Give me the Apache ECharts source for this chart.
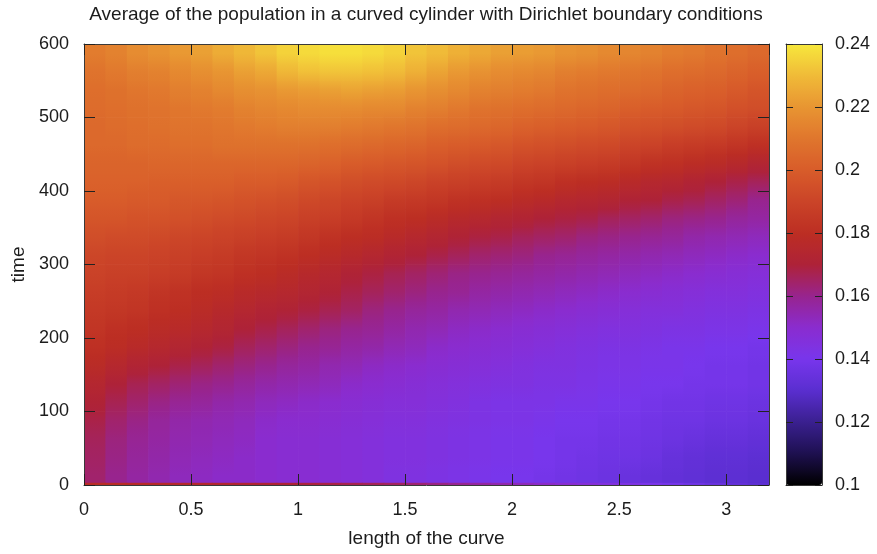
<!DOCTYPE html>
<html>
<head>
<meta charset="utf-8">
<script src="https://cdn.jsdelivr.net/npm/echarts/dist/echarts.min.js"></script>
<style>
html,body{margin:0;padding:0;background:#ffffff;}
#chart{width:877px;height:554px;}
</style>
</head>
<body>
<div id="chart"></div>
<script>
// ---- data ----
const titleText = 'Average of the population in a curved cylinder with Dirichlet boundary conditions';
const xName = 'length of the curve';
const yName = 'time';

// centres of the columns (length of the curve)
const xCenters = [0.05,0.15,0.25,0.35,0.45,0.55,0.65,0.75,0.85,0.95,1.05,1.15,1.25,1.35,1.45,1.55,
                  1.65,1.75,1.85,1.95,2.05,2.15,2.25,2.35,2.45,2.55,2.65,2.75,2.85,2.95,3.05,3.15];
// centres of the rows (time)
const timeCenters = [12.5,37.5,62.5,87.5,112.5,137.5,162.5,187.5,212.5,237.5,262.5,287.5,
                     312.5,337.5,362.5,387.5,412.5,437.5,462.5,487.5,512.5,537.5,562.5,587.5];

// average population, one array per time row (bottom to top)
const row00 = [0.164,0.160,0.157,0.155,0.153,0.152,0.151,0.151,0.150,0.149,0.149,0.148,0.147,0.146,0.144,0.144,0.143,0.142,0.141,0.140,0.140,0.139,0.138,0.137,0.136,0.135,0.134,0.133,0.132,0.131,0.131,0.130];
const row01 = [0.165,0.161,0.158,0.156,0.154,0.153,0.152,0.151,0.150,0.149,0.149,0.148,0.147,0.146,0.145,0.145,0.144,0.143,0.142,0.141,0.141,0.140,0.139,0.138,0.137,0.137,0.136,0.134,0.133,0.132,0.132,0.131];
const row02 = [0.166,0.162,0.159,0.157,0.155,0.154,0.153,0.152,0.150,0.149,0.149,0.148,0.147,0.146,0.145,0.145,0.144,0.143,0.142,0.141,0.141,0.140,0.139,0.139,0.138,0.138,0.137,0.136,0.135,0.134,0.134,0.133];
const row03 = [0.168,0.164,0.161,0.158,0.156,0.155,0.154,0.153,0.151,0.150,0.150,0.149,0.148,0.147,0.146,0.146,0.145,0.144,0.143,0.142,0.142,0.141,0.140,0.140,0.139,0.139,0.138,0.137,0.137,0.136,0.136,0.135];
const row04 = [0.171,0.167,0.164,0.161,0.159,0.158,0.156,0.155,0.153,0.152,0.151,0.150,0.149,0.148,0.147,0.147,0.146,0.145,0.143,0.142,0.142,0.142,0.141,0.141,0.140,0.140,0.139,0.138,0.138,0.137,0.137,0.136];
const row05 = [0.174,0.170,0.167,0.165,0.163,0.161,0.160,0.158,0.156,0.155,0.154,0.153,0.151,0.150,0.149,0.148,0.147,0.146,0.145,0.144,0.144,0.143,0.143,0.142,0.141,0.141,0.140,0.140,0.139,0.139,0.139,0.138];
const row06 = [0.178,0.175,0.172,0.170,0.168,0.166,0.164,0.162,0.160,0.158,0.157,0.155,0.154,0.152,0.151,0.150,0.149,0.148,0.147,0.146,0.145,0.144,0.144,0.143,0.142,0.142,0.141,0.141,0.140,0.139,0.139,0.138];
const row07 = [0.181,0.179,0.177,0.175,0.173,0.171,0.169,0.166,0.164,0.162,0.160,0.159,0.157,0.156,0.154,0.153,0.151,0.150,0.149,0.148,0.147,0.146,0.145,0.144,0.143,0.143,0.142,0.141,0.141,0.140,0.140,0.139];
const row08 = [0.183,0.181,0.180,0.178,0.177,0.175,0.173,0.170,0.168,0.166,0.164,0.162,0.160,0.159,0.157,0.155,0.154,0.152,0.151,0.150,0.149,0.148,0.147,0.146,0.145,0.145,0.144,0.143,0.143,0.142,0.142,0.141];
const row09 = [0.185,0.184,0.183,0.181,0.180,0.178,0.176,0.174,0.172,0.171,0.169,0.167,0.165,0.162,0.160,0.158,0.157,0.155,0.154,0.153,0.152,0.151,0.150,0.149,0.148,0.147,0.146,0.146,0.145,0.144,0.144,0.143];
const row10 = [0.187,0.186,0.185,0.183,0.182,0.180,0.179,0.177,0.176,0.175,0.173,0.171,0.168,0.166,0.164,0.162,0.160,0.159,0.157,0.156,0.155,0.154,0.153,0.152,0.151,0.150,0.149,0.148,0.147,0.146,0.146,0.145];
const row11 = [0.189,0.188,0.188,0.187,0.186,0.184,0.183,0.181,0.180,0.178,0.176,0.174,0.171,0.169,0.167,0.165,0.163,0.161,0.160,0.159,0.158,0.157,0.156,0.155,0.154,0.153,0.152,0.151,0.150,0.149,0.148,0.147];
const row12 = [0.191,0.190,0.190,0.189,0.188,0.187,0.186,0.184,0.183,0.182,0.180,0.178,0.176,0.174,0.172,0.170,0.168,0.166,0.164,0.163,0.162,0.160,0.159,0.158,0.157,0.156,0.155,0.154,0.153,0.152,0.151,0.150];
const row13 = [0.194,0.193,0.193,0.192,0.191,0.190,0.189,0.188,0.187,0.186,0.184,0.182,0.180,0.179,0.177,0.175,0.173,0.171,0.169,0.168,0.166,0.165,0.164,0.162,0.161,0.160,0.159,0.158,0.156,0.155,0.154,0.153];
const row14 = [0.197,0.197,0.196,0.196,0.195,0.194,0.193,0.192,0.191,0.190,0.188,0.187,0.185,0.183,0.181,0.180,0.178,0.176,0.175,0.173,0.172,0.170,0.169,0.168,0.166,0.165,0.164,0.162,0.161,0.160,0.158,0.157];
const row15 = [0.200,0.200,0.199,0.199,0.198,0.198,0.197,0.196,0.195,0.194,0.192,0.191,0.189,0.188,0.186,0.185,0.184,0.182,0.181,0.180,0.178,0.177,0.175,0.174,0.173,0.171,0.170,0.168,0.167,0.165,0.163,0.160];
const row16 = [0.202,0.202,0.202,0.201,0.201,0.201,0.201,0.200,0.200,0.199,0.197,0.196,0.194,0.193,0.192,0.191,0.189,0.188,0.187,0.186,0.184,0.183,0.181,0.180,0.179,0.177,0.175,0.174,0.172,0.170,0.168,0.166];
const row17 = [0.203,0.203,0.203,0.204,0.204,0.204,0.204,0.204,0.204,0.204,0.203,0.202,0.200,0.199,0.198,0.197,0.196,0.194,0.193,0.192,0.190,0.189,0.188,0.187,0.186,0.184,0.182,0.181,0.179,0.178,0.176,0.173];
const row18 = [0.205,0.205,0.206,0.206,0.207,0.207,0.208,0.208,0.208,0.208,0.208,0.207,0.206,0.205,0.204,0.203,0.201,0.200,0.199,0.198,0.196,0.195,0.194,0.193,0.192,0.190,0.189,0.187,0.186,0.185,0.183,0.181];
const row19 = [0.205,0.206,0.207,0.208,0.209,0.209,0.210,0.211,0.212,0.213,0.213,0.213,0.212,0.211,0.210,0.209,0.207,0.206,0.205,0.204,0.202,0.201,0.200,0.199,0.198,0.196,0.195,0.194,0.193,0.192,0.190,0.188];
const row20 = [0.206,0.207,0.208,0.209,0.210,0.211,0.212,0.214,0.215,0.216,0.217,0.217,0.217,0.216,0.216,0.214,0.213,0.211,0.209,0.208,0.207,0.206,0.205,0.204,0.203,0.201,0.200,0.199,0.198,0.197,0.195,0.194];
const row21 = [0.207,0.208,0.210,0.211,0.213,0.214,0.216,0.218,0.219,0.221,0.222,0.223,0.224,0.223,0.222,0.220,0.218,0.216,0.214,0.213,0.212,0.211,0.209,0.208,0.207,0.206,0.205,0.203,0.202,0.201,0.199,0.197];
const row22 = [0.209,0.211,0.213,0.214,0.216,0.218,0.220,0.223,0.225,0.229,0.231,0.232,0.232,0.231,0.230,0.227,0.224,0.221,0.219,0.217,0.216,0.215,0.213,0.212,0.211,0.210,0.209,0.207,0.206,0.205,0.203,0.201];
const row23 = [0.212,0.214,0.217,0.219,0.221,0.223,0.226,0.229,0.232,0.235,0.237,0.238,0.238,0.237,0.235,0.232,0.230,0.227,0.225,0.223,0.222,0.221,0.219,0.218,0.216,0.215,0.214,0.212,0.211,0.209,0.207,0.205];
const rows = [row00,row01,row02,row03,row04,row05,row06,row07,row08,row09,row10,row11,
              row12,row13,row14,row15,row16,row17,row18,row19,row20,row21,row22,row23];

// the thin initial line at time 0
const initialTime = 0;
const initialRow = [0.178,0.178,0.177,0.176,0.175,0.174,0.173,0.172,0.171,0.170,0.169,0.168,0.167,0.166,0.165,0.163,
                    0.161,0.159,0.157,0.155,0.153,0.151,0.149,0.147,0.145,0.143,0.141,0.139,0.137,0.135,0.133,0.131];

// colour-box range and axis ranges
const cbMin = 0.1, cbMax = 0.24, cbStep = 0.02;
const xMin = 0, xMax = 3.2, xStep = 0.5;
const yMin = 0, yMax = 600, yStep = 100;

// ---- build ----
const cellData = [];
rows.forEach((r, i) => r.forEach((v, j) => cellData.push([xCenters[j], timeCenters[i], v, i, j])));
const initData = initialRow.map((v, j) => [xCenters[j], initialTime, v]);
const dx = xCenters[1] - xCenters[0];
const dt = timeCenters[1] - timeCenters[0];

// gnuplot-like palette (black - blue - purple - red - orange - yellow)
const palette = ['#000000','#1e1050','#3a2090','#5a2ed0','#7836ec','#8a2ccf','#98248e','#ae2238',
                 '#bc2e23','#cb4428','#d85c2a','#e0762d','#e89532','#f0bb38','#f7e83c'];
function paletteColor(v) {
  const n = Math.max(0, Math.min(1, (v - cbMin) / (cbMax - cbMin)));
  return echarts.color.lerp(n, palette);
}

const FONT = '"Liberation Sans", Arial, Helvetica, sans-serif';
const TXT = '#1c1c1c';
const LINE = '#3a3a3a';

// each cell keeps its own mapped colour at its centre and is shaded
// vertically towards its neighbours (like gnuplot's smooth image)
function renderCell(params, api) {
  const x = api.value(0), t = api.value(1);
  const i = api.value(3), j = api.value(4);
  const own = api.visual('color');
  const v = rows[i][j];
  const vUp = i + 1 < rows.length ? rows[i + 1][j] : v;
  const vDown = i > 0 ? rows[i - 1][j] : v;
  const cTop = paletteColor((v + vUp) / 2);
  const cBot = paletteColor((v + vDown) / 2);
  const a = api.coord([x - dx / 2, t + dt / 2]);
  const b = api.coord([x + dx / 2, t - dt / 2]);
  return {type: 'rect',
          shape: {x: a[0], y: a[1] - 0.35, width: b[0] - a[0] + 0.7, height: b[1] - a[1] + 0.7},
          style: {fill: {type: 'linear', x: 0, y: 0, x2: 0, y2: 1,
                         colorStops: [{offset: 0, color: cTop}, {offset: 0.5, color: own},
                                      {offset: 1, color: cBot}]}}};
}
function renderInit(params, api) {
  const x = api.value(0), t = api.value(1);
  const a = api.coord([x - dx / 2, t + 3]);
  const b = api.coord([x + dx / 2, t]);
  return {type: 'rect', shape: {x: a[0], y: a[1], width: b[0] - a[0] + 0.7, height: b[1] - a[1]},
          style: {fill: api.visual('color')}};
}

const tickMain = {show: true, inside: true, length: 11, lineStyle: {color: '#222', width: 1}};
const tickCb = {show: true, inside: true, length: 7, lineStyle: {color: '#222', width: 1}};
const lineStyle = {show: true, onZero: false, lineStyle: {color: LINE, width: 1}};
const labelStyle = {fontFamily: FONT, fontSize: 18, color: TXT};

const chart = echarts.init(document.getElementById('chart'), null, {renderer: 'canvas'});
chart.setOption({
  animation: false,
  backgroundColor: '#ffffff',
  graphic: [{type: 'text', x: 426, y: 15, z: 20,
             style: {text: titleText, fontFamily: FONT, fontSize: 19, fill: TXT,
                     textAlign: 'center', textVerticalAlign: 'middle'}}],
  grid: [
    {left: 84, top: 44, width: 685, height: 441, containLabel: false},
    {left: 786, top: 44, width: 36, height: 441, containLabel: false, z: 10}
  ],
  xAxis: [
    {gridIndex: 0, type: 'value', min: xMin, max: xMax, interval: xStep, position: 'bottom', z: 10,
     axisLine: lineStyle, axisTick: tickMain, splitLine: {show: false},
     axisLabel: Object.assign({margin: 16, showMaxLabel: false}, labelStyle),
     name: xName, nameLocation: 'middle', nameGap: 44,
     nameTextStyle: {fontFamily: FONT, fontSize: 19, color: TXT}},
    {gridIndex: 0, type: 'value', min: xMin, max: xMax, interval: xStep, position: 'top', z: 10,
     axisLine: lineStyle, axisTick: tickMain, splitLine: {show: false}, axisLabel: {show: false}},
    {gridIndex: 1, type: 'value', min: 0, max: 1, position: 'bottom', z: 10,
     axisLine: lineStyle, axisTick: {show: false}, splitLine: {show: false}, axisLabel: {show: false}},
    {gridIndex: 1, type: 'value', min: 0, max: 1, position: 'top', z: 10,
     axisLine: lineStyle, axisTick: {show: false}, splitLine: {show: false}, axisLabel: {show: false}}
  ],
  yAxis: [
    {gridIndex: 0, type: 'value', min: yMin, max: yMax, interval: yStep, position: 'left', z: 10,
     axisLine: lineStyle, axisTick: tickMain, splitLine: {show: false},
     axisLabel: Object.assign({margin: 15}, labelStyle),
     name: yName, nameLocation: 'middle', nameGap: 49, nameRotate: 90,
     nameTextStyle: {fontFamily: FONT, fontSize: 19, color: TXT}},
    {gridIndex: 0, type: 'value', min: yMin, max: yMax, interval: yStep, position: 'right', z: 10,
     axisLine: lineStyle, axisTick: tickMain, splitLine: {show: false}, axisLabel: {show: false}},
    {gridIndex: 1, type: 'value', min: cbMin, max: cbMax, interval: cbStep, position: 'right', z: 10,
     axisLine: lineStyle, axisTick: tickCb,
     splitLine: {show: false}, axisLabel: Object.assign({margin: 13}, labelStyle)},
    {gridIndex: 1, type: 'value', min: cbMin, max: cbMax, interval: cbStep, position: 'left', z: 10,
     axisLine: lineStyle, axisTick: tickCb,
     splitLine: {show: false}, axisLabel: {show: false}}
  ],
  visualMap: {
    type: 'continuous', min: cbMin, max: cbMax, dimension: 2, seriesIndex: [0, 1],
    calculable: false, hoverLink: false, orient: 'vertical',
    left: 786, top: 44, itemWidth: 36, itemHeight: 441, padding: 0,
    inRange: {color: palette}
  },
  series: [
    {type: 'custom', xAxisIndex: 0, yAxisIndex: 0, data: cellData, renderItem: renderCell,
     encode: {x: 0, y: 1}, dimensions: ['x', 't', 'value', 'row', 'col'],
     silent: true, clip: true},
    {type: 'custom', xAxisIndex: 0, yAxisIndex: 0, data: initData, renderItem: renderInit,
     encode: {x: 0, y: 1}, silent: true, clip: true, z: 3}
  ]
});
</script>
</body>
</html>
